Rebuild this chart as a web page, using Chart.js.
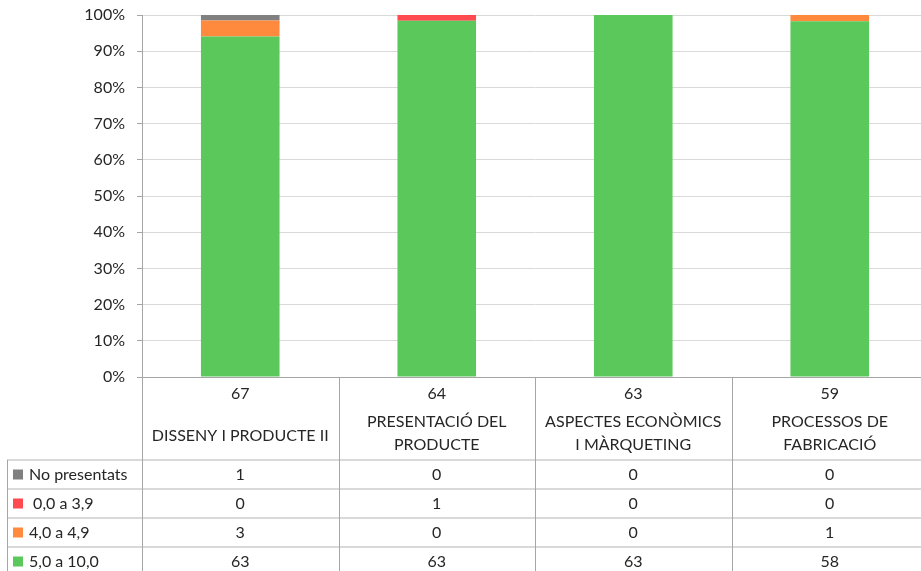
<!DOCTYPE html>
<html>
<head>
<meta charset="utf-8">
<script src="https://cdn.jsdelivr.net/npm/chart.js@4"></script>
<style>
  body { margin: 0; background: #fff; overflow: hidden; }
  #wrap { width: 921px; height: 571px; overflow: hidden; }
</style>
</head>
<body>
<div id="wrap"><canvas id="chart" width="928" height="571"></canvas></div>
<script>
// counts per subject
const categories = [
    ['DISSENY I PRODUCTE II'],
    ['PRESENTACIÓ DEL', 'PRODUCTE'],
    ['ASPECTES ECONÒMICS', 'I MÀRQUETING'],
    ['PROCESSOS DE', 'FABRICACIÓ']
];
const noPresentats = [1, 0, 0, 0];
const de0a39 = [0, 1, 0, 0];
const de4a49 = [3, 0, 0, 1];
const de5a10 = [63, 63, 63, 58];
const yTicks = ['0%', '10%', '20%', '30%', '40%', '50%', '60%', '70%', '80%', '90%', '100%'];

const totals = categories.map((c, i) => noPresentats[i] + de0a39[i] + de4a49[i] + de5a10[i]);
const pct = arr => arr.map((v, i) => v / totals[i] * 100);

const FONT = 'Lato, "Open Sans", sans-serif';
const TEXT = '#262626';

// table rows, top to bottom (same order as the original legend)
const rows = [
    { label: 'No presentats', color: '#808080', data: noPresentats },
    { label: ' 0,0 a 3,9', color: '#ff4b4f', data: de0a39 },
    { label: '4,0 a 4,9', color: '#ff8a3d', data: de4a49 },
    { label: '5,0 a 10,0', color: '#5bc85b', data: de5a10 }
];

const dataTable = {
    id: 'dataTable',
    afterDraw(chart) {
        const ctx = chart.ctx;
        const area = chart.chartArea;
        const xs = chart.scales.x;
        const n = categories.length;
        const colW = (area.right - area.left) / n;
        const headBottom = area.bottom + 83;
        const rowH = 29;
        const tableLeft = 7;

        ctx.save();
        // horizontal row lines
        ctx.strokeStyle = '#d9d9d9';
        ctx.lineWidth = 2;
        for (let r = 0; r < rows.length; r++) {
            const y = headBottom + r * rowH;
            ctx.beginPath();
            ctx.moveTo(tableLeft, y);
            ctx.lineTo(chart.width, y);
            ctx.stroke();
        }
        // vertical column lines
        ctx.strokeStyle = '#a6a6a6';
        ctx.lineWidth = 1;
        for (let i = 0; i <= n; i++) {
            const x = Math.round(area.left + i * colW) + 0.5;
            ctx.beginPath();
            ctx.moveTo(x, area.bottom);
            ctx.lineTo(x, chart.height);
            ctx.stroke();
        }
        ctx.beginPath();
        ctx.moveTo(tableLeft + 0.5, headBottom);
        ctx.lineTo(tableLeft + 0.5, chart.height);
        ctx.stroke();

        ctx.fillStyle = TEXT;
        ctx.font = '16px ' + FONT;
        ctx.textAlign = 'center';
        ctx.textBaseline = 'middle';
        // header: totals and subject names
        categories.forEach((lines, i) => {
            const cx = xs.getPixelForValue(i);
            ctx.fillText(String(totals[i]), cx, area.bottom + 17);
            if (lines.length === 1) {
                ctx.fillText(lines[0], cx, area.bottom + 59);
            } else {
                ctx.fillText(lines[0], cx, area.bottom + 45);
                ctx.fillText(lines[1], cx, area.bottom + 68);
            }
        });
        // body rows
        rows.forEach((row, r) => {
            const cy = headBottom + r * rowH + rowH / 2;
            ctx.fillStyle = row.color;
            ctx.fillRect(13, cy - 5, 10, 10);
            ctx.fillStyle = TEXT;
            ctx.textAlign = 'left';
            ctx.fillText(row.label, 29, cy);
            ctx.textAlign = 'center';
            row.data.forEach((v, i) => {
                ctx.fillText(String(v), xs.getPixelForValue(i), cy);
            });
        });
        ctx.restore();
    }
};

new Chart(document.getElementById('chart'), {
    type: 'bar',
    data: {
        labels: categories.map(c => c.join(' ')),
        datasets: [
            { label: rows[3].label, data: pct(de5a10), backgroundColor: rows[3].color },
            { label: rows[2].label, data: pct(de4a49), backgroundColor: rows[2].color },
            { label: rows[1].label, data: pct(de0a39), backgroundColor: rows[1].color },
            { label: rows[0].label, data: pct(noPresentats), backgroundColor: rows[0].color }
        ]
    },
    options: {
        responsive: false,
        animation: false,
        layout: { padding: { top: 15, right: 0, bottom: 194, left: 0 } },
        datasets: { bar: { categoryPercentage: 1, barPercentage: 0.4 } },
        plugins: { legend: { display: false }, tooltip: { enabled: false } },
        scales: {
            x: {
                stacked: true,
                ticks: { display: false },
                grid: { display: false },
                border: { color: '#a6a6a6' },
                afterFit: s => { s.height = 0; }
            },
            y: {
                stacked: true,
                min: 0,
                max: 100,
                ticks: {
                    stepSize: 10,
                    color: TEXT,
                    font: { family: FONT, size: 16 },
                    padding: 12,
                    callback: (v) => yTicks[v / 10]
                },
                grid: { color: '#d9d9d9', tickLength: 5, tickColor: '#a6a6a6' },
                border: { color: '#a6a6a6' },
                afterFit: s => { s.width = 142; s.paddingTop = 0; s.paddingBottom = 0; }
            }
        }
    },
    plugins: [dataTable]
});
</script>
</body>
</html>
